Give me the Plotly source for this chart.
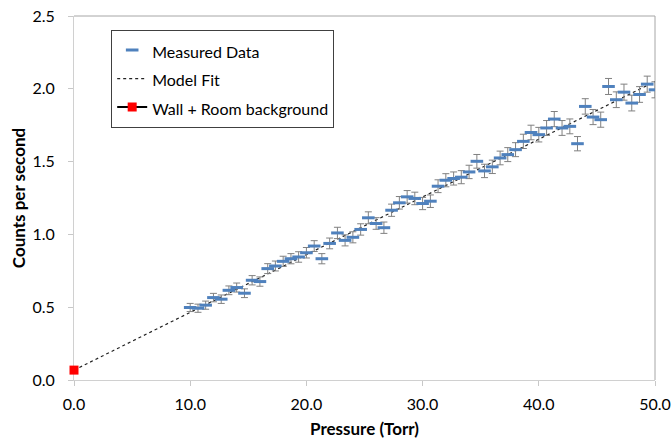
import plotly.graph_objects as go

pressure = [10.0, 10.67, 11.33, 12.0, 12.67, 13.33, 14.0, 14.67, 15.33, 16.0,
            16.67, 17.33, 18.0, 18.67, 19.33, 20.0, 20.67, 21.33, 22.0, 22.67,
            23.33, 24.0, 24.67, 25.33, 26.0, 26.67, 27.33, 28.0, 28.67, 29.33,
            30.0, 30.67, 31.33, 32.0, 32.67, 33.33, 34.0, 34.67, 35.33, 36.0,
            36.67, 37.33, 38.0, 38.67, 39.33, 40.0, 40.67, 41.33, 42.0, 42.67,
            43.33, 44.0, 44.67, 45.33, 46.0, 46.67, 47.33, 48.0, 48.67, 49.33,
            50.0]
counts = [0.498, 0.493, 0.514, 0.566, 0.555, 0.616, 0.635, 0.596, 0.685, 0.676,
          0.765, 0.783, 0.815, 0.833, 0.845, 0.874, 0.920, 0.833, 0.938, 1.010,
          0.959, 0.980, 1.034, 1.114, 1.075, 1.046, 1.166, 1.217, 1.258, 1.247,
          1.212, 1.228, 1.331, 1.372, 1.384, 1.393, 1.429, 1.502, 1.436, 1.464,
          1.525, 1.548, 1.582, 1.639, 1.700, 1.685, 1.731, 1.792, 1.731, 1.742,
          1.623, 1.879, 1.806, 1.788, 2.016, 1.925, 1.977, 1.902, 1.961, 2.032,
          1.993]
errors = [0.028, 0.028, 0.028, 0.029, 0.029, 0.030, 0.031, 0.030, 0.032, 0.032,
          0.034, 0.034, 0.035, 0.035, 0.036, 0.036, 0.037, 0.035, 0.037, 0.039,
          0.038, 0.038, 0.039, 0.041, 0.040, 0.039, 0.042, 0.043, 0.043, 0.043,
          0.042, 0.043, 0.044, 0.045, 0.045, 0.045, 0.046, 0.047, 0.046, 0.046,
          0.047, 0.048, 0.048, 0.049, 0.050, 0.050, 0.051, 0.052, 0.051, 0.051,
          0.049, 0.053, 0.052, 0.052, 0.055, 0.054, 0.055, 0.054, 0.054, 0.055,
          0.055]

fit_x = [0.0, 50.0]
fit_y = [0.068, 2.05]

bg_x = [0.0]
bg_y = [0.068]

font_family = "Lato, Open Sans, sans-serif"


def legend_label(text):
    return "<span style='font-size:16px'>" + text + "</span>"


fig = go.Figure()

fig.add_trace(go.Scatter(
    x=fit_x, y=fit_y, mode="lines", name=legend_label("Model Fit"),
    line=dict(color="#222222", width=1.2, dash="dot"),
    legendrank=2,
))

fig.add_trace(go.Scatter(
    x=pressure, y=counts, mode="markers", name=legend_label("Measured Data"),
    marker=dict(symbol="line-ew", size=9, color="#4F81BD",
                line=dict(color="#4F81BD", width=3)),
    error_y=dict(type="data", array=errors, visible=True,
                 color="#808080", thickness=1, width=3.5),
    legendrank=1,
))

fig.add_trace(go.Scatter(
    x=bg_x, y=bg_y, mode="lines+markers", name=legend_label("Wall + Room background"),
    line=dict(color="black", width=2),
    marker=dict(symbol="square", size=9, color="#FF0000"),
    cliponaxis=False,
    legendrank=3,
))

axis_common = dict(
    showgrid=False, zeroline=False, showline=True, linecolor="#D0D0D0",
    linewidth=1, mirror=False, ticks="outside", ticklen=5, tickcolor="#C8C8C8",
    tickfont=dict(family=font_family, size=16, color="black"),
    automargin=False, layer="below traces",
)

fig.update_layout(
    width=672, height=444,
    margin=dict(l=74, r=17, t=16, b=64),
    paper_bgcolor="white", plot_bgcolor="white",
    font=dict(family=font_family, color="black"),
    xaxis=dict(range=[0, 50], dtick=10, tick0=0, tickformat=".1f",
               ticklabelstandoff=5,
               title=dict(text="<b>Pressure (Torr)</b>",
                          font=dict(family=font_family, size=17), standoff=10),
               **axis_common),
    yaxis=dict(range=[0, 2.5], dtick=0.5, tick0=0, tickformat=".1f",
               ticklabelstandoff=10,
               title=dict(text="<b>Counts per second</b>",
                          font=dict(family=font_family, size=17), standoff=2),
               **axis_common),
    legend=dict(x=0.064, y=0.962, xanchor="left", yanchor="top",
                bgcolor="white", bordercolor="#404040", borderwidth=1,
                font=dict(family=font_family, size=19.6, color="black"),
                itemwidth=30, tracegroupgap=0),
    showlegend=True,
    shapes=[
        dict(type="line", xref="paper", yref="paper", x0=0, x1=1, y0=1, y1=1,
             line=dict(color="#A6A6A6", width=1), layer="below"),
        dict(type="line", xref="paper", yref="paper", x0=1, x1=1, y0=0, y1=1,
             line=dict(color="#A6A6A6", width=1), layer="below"),
    ],
)

fig.write_html("out.html", config={"displayModeBar": False},
               post_script="document.body.style.margin='0';")
